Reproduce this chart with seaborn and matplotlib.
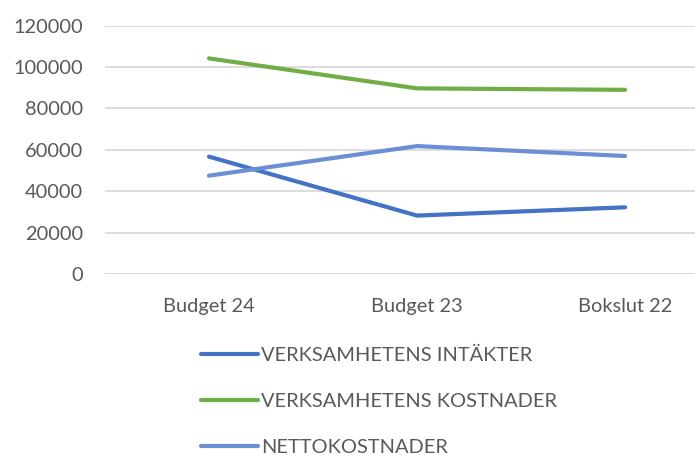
import matplotlib
matplotlib.use('Agg')
import matplotlib.pyplot as plt
import seaborn as sns
import pandas as pd

categories = ['Budget 24', 'Budget 23', 'Bokslut 22']
intakter = [56700, 28200, 32200]
kostnader = [104200, 89700, 89000]
netto = [47500, 61800, 57000]
series_names = ['VERKSAMHETENS INTÄKTER', 'VERKSAMHETENS KOSTNADER', 'NETTOKOSTNADER']
colors = ['#4472C4', '#70AD47', '#6B8ED4']

df = pd.DataFrame({
    'kategori': categories * 3,
    'varde': intakter + kostnader + netto,
    'serie': [series_names[0]] * 3 + [series_names[1]] * 3 + [series_names[2]] * 3,
})

sns.set_style('white')
plt.rcParams['font.family'] = ['Lato', 'DejaVu Sans']

fig = plt.figure(figsize=(6.95, 4.55), dpi=100)
ax = fig.add_axes([0.151, 0.398, 0.849, 0.5455])

sns.lineplot(data=df, x='kategori', y='varde', hue='serie', palette=colors,
             sort=False, linewidth=3, ax=ax, legend=True)

ax.set_ylim(0, 120000)
ax.set_yticks(range(0, 120001, 20000))
ax.set_xlim(-0.5, 2.336)
ax.yaxis.grid(True, color='#D9D9D9', linewidth=1.3)
ax.xaxis.grid(False)
for s in ax.spines.values():
    s.set_visible(False)
ax.set_xlabel('')
ax.set_ylabel('')
ax.tick_params(axis='y', length=0, pad=16, labelsize=14.4, labelcolor='#595959')
ax.tick_params(axis='x', length=0, pad=17, labelsize=14.4, labelcolor='#595959')
for line in ax.get_lines():
    line.set_solid_capstyle('round')

handles, labels = ax.get_legend_handles_labels()
ax.get_legend().remove()
for h in handles:
    h.set_linewidth(3)
    h.set_solid_capstyle('round')
leg = fig.legend(handles, labels, loc='upper left', bbox_to_anchor=(0.289, 0.237),
                 frameon=False, fontsize=14.4, handlelength=2.85, handletextpad=0.15,
                 labelspacing=1.45, borderaxespad=0, borderpad=0)
for t in leg.get_texts():
    t.set_color('#595959')

fig.savefig('out.png', dpi=100)
